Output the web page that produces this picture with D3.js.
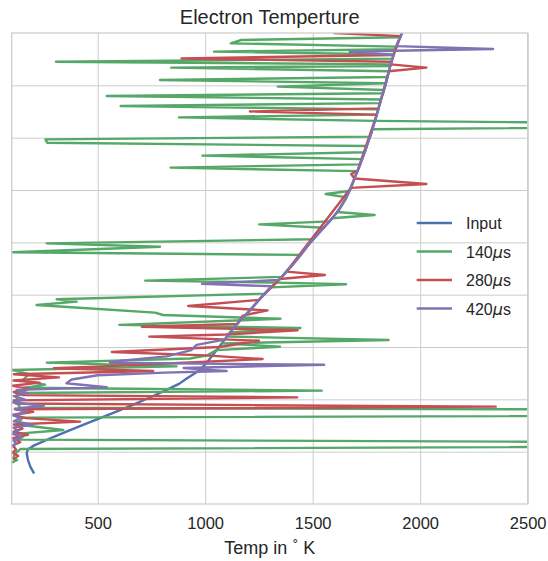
<!DOCTYPE html>
<html>
<head>
<meta charset="utf-8">
<script src="https://cdn.jsdelivr.net/npm/d3@7/dist/d3.min.js"></script>
<style>
  body { margin: 0; background: #ffffff; }
  text { font-family: "Liberation Sans", Arial, sans-serif; fill: #262626; }
</style>
</head>
<body>
<svg id="chart" width="548" height="561"></svg>
<script>
// ---- data: [altitude (km), temperature (K)] ----
const seriesNames = ["Input", "140", "280", "420"];
const seriesColors = ["#4C72B0", "#55A868", "#C44E52", "#8172B2"];
const tempTicks = [500, 1000, 1500, 2000, 2500];
const altGrid = [50, 100, 150, 200, 250, 300, 350, 400];

const inputProfile = [
  [30,202],[36,186],[42,176],[48,170],[52,174],[56,205],[60,250],[64,293],[70,366],
  [76,438],[82,511],[88,584],[95,666],[102,745],[109,821],[115,880],[120,914],
  [128,976],[137,1015],[147,1053],[157,1090],[168,1131],[177,1170],[185,1208],
  [195,1250],[204,1290],[214,1343],[227,1400],[240,1452],[250,1490],[259,1529],
  [270,1578],[281,1622],[291,1652],[300,1673],[313,1698],[322,1716],[338,1745],
  [354,1772],[370,1795],[386,1817],[400,1838],[418,1860],[437,1888],[450,1915]
];

const profile140 = [
  [450,1915],[446,1907],[443.3,1168],[440.1,1119],[437,1888],[434.5,1884],[432.2,1041],
  [429.5,1877],[425.5,1871],[422.6,306],[420,1863],[418.5,1861],[416.9,842],[413.5,1854],
  [408,1848],[405.1,790],[402,1840],[398.8,1338],[395.5,1831],[392.5,1827],[389.8,542],
  [386.5,1818],[383,1813],[380.3,607],[377,1805],[372,1798],[369.4,878],[366,1789],
  [362,4000],[358,1778],[351,1767],[348.4,257],[345.2,265],[342,1752],[336,1741],
  [332.8,987],[329.5,1730],[324.5,1720],[321.4,839],[318,1708],[305,1683],[299,1671],
  [296.2,1560],[293,1657],[279,1614],[276.1,1788],[273,1590],[270,1578],[267.2,1251],
  [264,1551],[253,1503],[249,263],[245.8,790],[240.5,105],[238,1444],[217,1356],
  [213.4,721],[211.5,1330],[209.9,1655],[207,1306],[201,1277],[195.6,309],[193.3,402],
  [190.1,216],[182.8,766],[180.6,804],[177,1350],[171.1,601],[168.2,1443],[164,1116],
  [160,1101],[156.7,1853],[153.5,1077],[150.3,1348],[147,1053],[142,1010],[139,930],
  [135.1,263],[131.5,867],[128,104],[124,180],[118,150],[114,255],[111,160],[108.3,1542],
  [106,130],[98,120],[92,140],[87.3,7500],[82.5,150],[76,125],[70.7,340],[67,120],
  [61.5,130],[56.9,5600],[52.5,140],[48,115],[44,108],[42,125],[40,105]
];

const profile280 = [
  [450,1600],[447,1909],[429,1876],[425.6,890],[422.5,1867],[420,1863],[416.9,2029],
  [413.5,1854],[378,1806],[375,1208],[372,1798],[318,1708],[315.3,1679],[311,1694],
  [305.8,2029],[302,1677],[222,1378],[218.8,1557],[215,1347],[195,1250],[189.2,921],
  [185,1290],[180,1175],[172,1150],[169.4,705],[166,1430],[162,1095],[159.9,740],
  [156,1250],[150,1065],[145.2,566],[142,1000],[138.5,1267],[135,900],[132,580],
  [129.7,296],[127,758],[124,110],[121,320],[118,108],[116,230],[113,105],[110,185],
  [107,110],[104,150],[101.9,1428],[99,110],[96,120],[93,2351],[90.5,115],[88,200],
  [85,108],[82,165],[78.7,418],[76,110],[72,150],[69,108],[66,175],[63,105],[59,140],
  [56,106],[52,120],[49,104],[46,130],[43,110]
];

const profile420 = [
  [450,1915],[446,1907],[437.5,1889],[434.7,2339],[433,1882],[431.8,1672],[429,1876],
  [418,1860],[400,1838],[386,1817],[370,1795],[354,1772],[338,1745],[322,1716],
  [313,1698],[300,1673],[291,1652],[281,1622],[270,1578],[259,1529],[250,1490],
  [240,1452],[227,1400],[214,1343],[210.5,985],[208,1311],[204,1290],[195,1250],
  [185,1208],[177,1170],[168,1131],[157,1090],[152,960],[147,935],[141,820],[137,610],
  [135,557],[133,1553],[130,900],[127,1100],[125.5,813],[123,500],[119,379],[115.3,355],
  [113,470],[111.5,542],[109,123],[106,175],[103,110],[100,160],[97,105],[94,250],
  [91,115],[88,170],[85,105],[82,140],[79,110],[76,200],[73,108],[70,130],[67,105],
  [64,150],[61,108],[58,120],[55,104]
];

const profiles = [inputProfile, profile140, profile280, profile420];

// ---- layout ----
const svg = d3.select("#chart");
const frame = { left: 11.7, right: 527.7, top: 33, bottom: 504 };
const x = d3.scaleLinear().domain([100, 2500]).range([frame.left, frame.right]);
const y = d3.scaleLinear().domain([0, 450]).range([frame.bottom, frame.top]);

svg.append("rect").attr("width", 548).attr("height", 561).attr("fill", "#ffffff");

svg.append("clipPath").attr("id", "plot-clip")
  .append("rect")
  .attr("x", frame.left).attr("y", frame.top)
  .attr("width", frame.right - frame.left).attr("height", frame.bottom - frame.top);

// grid
const gridColor = "#cccccc";
const xGrid = svg.append("g")
  .attr("transform", `translate(0,${frame.bottom})`)
  .call(d3.axisBottom(x).tickValues(tempTicks).tickSize(-(frame.bottom - frame.top)).tickFormat(""));
xGrid.select(".domain").remove();
xGrid.selectAll("line").attr("stroke", gridColor).attr("stroke-width", 1);

const yGrid = svg.append("g")
  .attr("transform", `translate(${frame.left},0)`)
  .call(d3.axisLeft(y).tickValues(altGrid).tickSize(-(frame.right - frame.left)).tickFormat(""));
yGrid.select(".domain").remove();
yGrid.selectAll("line").attr("stroke", gridColor).attr("stroke-width", 1);

// profiles
const line = d3.line().x(d => x(d[1])).y(d => y(d[0]));
const plotArea = svg.append("g").attr("clip-path", "url(#plot-clip)");
profiles.forEach((p, i) => {
  plotArea.append("path")
    .datum(p)
    .attr("fill", "none")
    .attr("stroke", seriesColors[i])
    .attr("stroke-width", 2.4)
    .attr("stroke-linejoin", "round")
    .attr("stroke-linecap", "round")
    .attr("d", line);
});

// frame
svg.append("rect")
  .attr("x", frame.left).attr("y", frame.top)
  .attr("width", frame.right - frame.left).attr("height", frame.bottom - frame.top)
  .attr("fill", "none").attr("stroke", gridColor).attr("stroke-width", 1.25);

// x tick labels
const xAxis = svg.append("g")
  .attr("transform", `translate(0,${frame.bottom})`)
  .call(d3.axisBottom(x).tickValues(tempTicks).tickSize(0).tickPadding(13).tickFormat(d3.format("d")));
xAxis.select(".domain").remove();
xAxis.selectAll("text")
  .attr("font-family", "'Liberation Sans', Arial, sans-serif")
  .attr("font-size", 16.5).attr("fill", "#262626");

// title
svg.append("text")
  .attr("x", (frame.left + frame.right) / 2).attr("y", 24)
  .attr("text-anchor", "middle").attr("font-size", 20)
  .text("Electron Temperture");

// x label
const xl = svg.append("text")
  .attr("x", (frame.left + frame.right) / 2).attr("y", 554)
  .attr("text-anchor", "middle").attr("font-size", 18);
xl.append("tspan").text("Temp in ");
xl.append("tspan").attr("font-family", "'DejaVu Sans', sans-serif").attr("font-size", 12).attr("dy", -6).text("°");
xl.append("tspan").attr("dy", 6).text(" K");

// legend
const legend = svg.append("g");
const legendY = [223, 251.5, 280, 308.5];
seriesNames.forEach((name, i) => {
  const g = legend.append("g").attr("transform", `translate(0,${legendY[i]})`);
  g.append("line").attr("x1", 416.7).attr("x2", 452).attr("y1", 0).attr("y2", 0)
    .attr("stroke", seriesColors[i]).attr("stroke-width", 2.5);
  const t = g.append("text").attr("x", 466).attr("y", 6).attr("font-size", 16);
  if (i === 0) {
    t.text(name);
  } else {
    t.append("tspan").text(name);
    t.append("tspan").attr("font-family", "'DejaVu Sans', sans-serif").attr("font-style", "italic").text("μ");
    t.append("tspan").text("s");
  }
});
</script>
</body>
</html>
